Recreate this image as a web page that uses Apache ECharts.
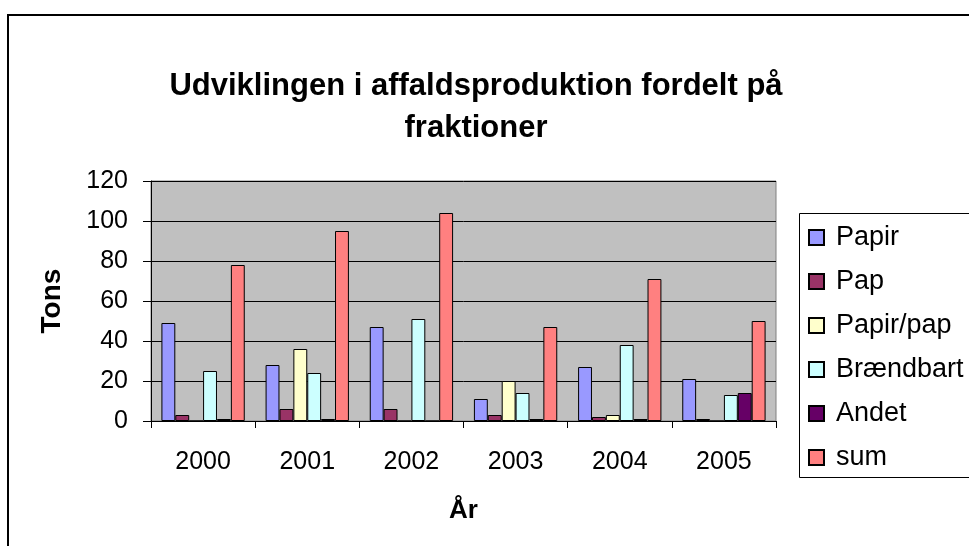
<!DOCTYPE html>
<html>
<head>
<meta charset="utf-8">
<title>Udviklingen i affaldsproduktion</title>
<script src="https://cdn.jsdelivr.net/npm/echarts@6/dist/echarts.min.js"></script>
<style>
  html, body { margin: 0; padding: 0; background: #fff; }
  #main { width: 969px; height: 546px; }
</style>
</head>
<body>
<div id="main"></div>
<script>
// 年份（x 轴）
var years = ['2000', '2001', '2002', '2003', '2004', '2005']
// 各类别数据（吨）
var papir = [49, 28, 47, 11, 27, 21]
var pap = [3, 6, 6, 3, 2, 1]
var papirPap = [0, 36, 0, 20, 3, 0]
var braendbart = [25, 24, 51, 14, 38, 13]
var andet = [1, 1, 0, 1, 1, 14]
var sum = [78, 95, 104, 47, 71, 50]
// y 轴刻度
var yTicks = [0, 20, 40, 60, 80, 100, 120]

var seriesNames = ['Papir', 'Pap', 'Papir/pap', 'Brændbart', 'Andet', 'sum']
var seriesData = [papir, pap, papirPap, braendbart, andet, sum]
var seriesColors = ['#9999FF', '#993366', '#FFFFCC', '#CCFFFF', '#660066', '#FF8080']

var font = 'Liberation Sans, Arial, sans-serif'

var chartDom = document.getElementById('main')
var myChart = echarts.init(chartDom)

var series = seriesNames.map(function(name, i) {
  return {
    name: name,
    type: 'bar',
    data: seriesData[i],
    barGap: 0,
    barCategoryGap: '20%',
    itemStyle: {
      color: seriesColors[i],
      borderColor: '#000',
      borderWidth: 1
    }
  }
})

var option = {
  animation: false,
  title: {
    text: 'Udviklingen i affaldsproduktion fordelt på\nfraktioner',
    left: 471,
    textAlign: 'center',
    top: 60,
    textStyle: {
      fontFamily: font,
      fontSize: 31,
      fontWeight: 'bold',
      color: '#000',
      lineHeight: 42
    }
  },
  // 外框和图例框
  graphic: [{
    type: 'rect',
    shape: { x: 8, y: 15, width: 1000, height: 600 },
    style: { fill: 'none', stroke: '#000', lineWidth: 2 },
    silent: true
  }, {
    type: 'rect',
    shape: { x: 799.5, y: 213.5, width: 300, height: 264 },
    style: { fill: '#fff', stroke: '#000', lineWidth: 1 },
    silent: true
  }],
  legend: {
    orient: 'vertical',
    left: 808,
    top: 224,
    padding: 0,
    itemWidth: 15,
    itemHeight: 15,
    itemGap: 17,
    icon: 'rect',
    textStyle: {
      fontFamily: font,
      fontSize: 27,
      lineHeight: 27,
      color: '#000',
      padding: [0, 0, 0, 7]
    },
    data: seriesNames
  },
  grid: {
    left: 151,
    right: 193,
    top: 181,
    bottom: 125,
    show: true,
    backgroundColor: '#C0C0C0',
    borderColor: '#808080',
    borderWidth: 1
  },
  xAxis: {
    type: 'category',
    data: years,
    name: 'År',
    nameLocation: 'middle',
    nameGap: 77,
    nameTextStyle: { fontFamily: font, fontSize: 26, fontWeight: 'bold', color: '#000' },
    axisLine: { lineStyle: { color: '#000', width: 1 } },
    axisTick: { show: true, length: 7, lineStyle: { color: '#000' } },
    axisLabel: { fontFamily: font, fontSize: 25, color: '#000', margin: 29 }
  },
  yAxis: {
    type: 'value',
    min: yTicks[0],
    max: yTicks[yTicks.length - 1],
    interval: yTicks[1] - yTicks[0],
    name: 'Tons',
    nameLocation: 'middle',
    nameGap: 85,
    nameRotate: 90,
    nameTextStyle: { fontFamily: font, fontSize: 28, fontWeight: 'bold', color: '#000' },
    axisLine: { show: true, lineStyle: { color: '#000', width: 1 } },
    axisTick: { show: true, length: 8, lineStyle: { color: '#000' } },
    axisLabel: { fontFamily: font, fontSize: 25, color: '#000', margin: 23 },
    splitLine: { show: true, lineStyle: { color: '#000', width: 1 } }
  },
  series: series
}

myChart.setOption(option)
</script>
</body>
</html>
